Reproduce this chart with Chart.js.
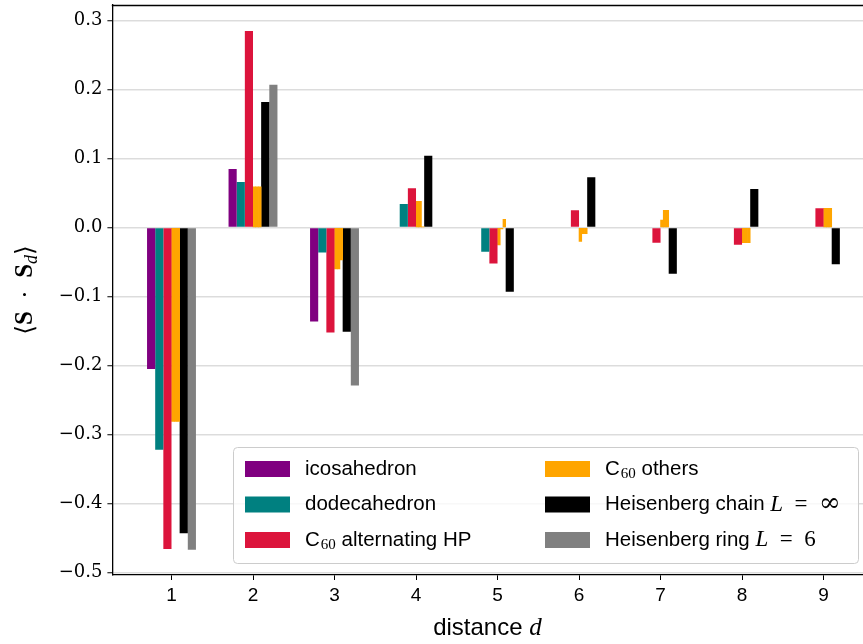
<!DOCTYPE html>
<html>
<head>
<meta charset="utf-8">
<script src="https://cdn.jsdelivr.net/npm/chart.js@4/dist/chart.umd.min.js"></script>
<style>
  html, body { margin: 0; padding: 0; overflow: hidden; background: #fff; }
  #wrap { position: absolute; left: 0; top: 0; width: 880px; height: 644px; }
</style>
</head>
<body>
<div id="wrap"><canvas id="chart"></canvas></div>
<script>
// spin-spin correlations <S . S_d> against graph distance d
const distances = [1, 2, 3, 4, 5, 6, 7, 8, 9];
const yTicks = [-0.5, -0.4, -0.3, -0.2, -0.1, 0.0, 0.1, 0.2, 0.3];

const icosahedron = [-0.205, 0.085, -0.136];
const dodecahedron = [-0.322, 0.066, -0.036, 0.034, -0.035];
const c60Alternating = [-0.466, 0.285, -0.152, 0.057, -0.052, 0.025, -0.022, -0.025, 0.028];
// "C60 others": three bond classes, drawn as thin sub-bars side by side
const c60OthersA = [-0.281, 0.059, -0.060, 0.038, -0.025, -0.020, 0.011, -0.022, 0.028];
const c60OthersB = [-0.281, 0.059, -0.060, 0.038, -0.002, -0.009, 0.025, -0.022, 0.028];
const c60OthersC = [-0.281, 0.059, -0.047, 0.001, 0.012, -0.009, 0.025, -0.022, 0.028];
const heisenbergChain = [-0.443, 0.182, -0.151, 0.104, -0.093, 0.073, -0.067, 0.056, -0.053];
const heisenbergRing = [-0.467, 0.207, -0.229];

const X_MIN = 0.275, X_MAX = 9.625;
const Y_MIN = -0.5036, Y_MAX = 0.3226;

const BAR_W = 0.1;
const SUB_W = BAR_W / 3;

const SERIF = "'DejaVu Serif', 'Liberation Serif', serif";
const MATH = "'Liberation Serif', 'DejaVu Serif', serif";
const SANS = "'Liberation Sans', 'DejaVu Sans', sans-serif";

const toPoints = (vals, offset) =>
    vals.map((v, i) => ({ x: distances[i] + offset, y: v }));

// bar widths are set relative to the narrowest spacing (the orange sub-bars)
const mainBar = (data, color, offset) => ({
    data: toPoints(data, offset), backgroundColor: color,
    barPercentage: BAR_W / SUB_W, categoryPercentage: 1, grouped: false, borderWidth: 0
});
const subBar = (data, color, offset) => ({
    data: toPoints(data, offset), backgroundColor: color,
    barPercentage: 1, categoryPercentage: 1, grouped: false, borderWidth: 0
});

const datasets = [
    mainBar(icosahedron, '#800080', -0.25),
    mainBar(dodecahedron, '#008080', -0.15),
    mainBar(c60Alternating, '#dc143c', -0.05),
    subBar(c60OthersA, '#ffa500', 0.05 - SUB_W),
    subBar(c60OthersB, '#ffa500', 0.05),
    subBar(c60OthersC, '#ffa500', 0.05 + SUB_W),
    mainBar(heisenbergChain, '#000000', 0.15),
    mainBar(heisenbergRing, '#808080', 0.25)
];

const FONTS = {
    sans: `20.5px ${SANS}`,
    sub: `15px ${MATH}`,
    ital: `italic 23px ${MATH}`,
    serif: `23px ${MATH}`,
    inf: `26px 'DejaVu Serif', serif`,
    gap: `23px ${MATH}`
};

// legend rows, column-major like a two-column matplotlib legend
const legendItems = [
    { color: '#800080', runs: [['icosahedron', 'sans']] },
    { color: '#008080', runs: [['dodecahedron', 'sans']] },
    { color: '#dc143c', runs: [['C', 'sans'], ['60', 'sub'], [' alternating HP', 'sans']] },
    { color: '#ffa500', runs: [['C', 'sans'], ['60', 'sub'], [' others', 'sans']] },
    { color: '#000000', runs: [['Heisenberg chain ', 'sans'], ['L', 'ital'], ['\u2002=\u2002', 'gap'], ['∞', 'inf']] },
    { color: '#808080', runs: [['Heisenberg ring ', 'sans'], ['L', 'ital'], ['\u2002=\u2002', 'gap'], ['6', 'serif']] }
];

const drawRuns = (ctx, runs, x, y) => {
    for (const [t, f] of runs) {
        ctx.font = FONTS[f];
        if (f === 'sub') x += 1;
        ctx.fillText(t, x, f === 'sub' ? y + 5 : y);
        x += ctx.measureText(t).width;
    }
};

const decorations = {
    id: 'decorations',
    afterDraw(chart) {
        const { ctx, chartArea: a } = chart;
        ctx.save();

        // top spine
        ctx.strokeStyle = '#000';
        ctx.lineWidth = 1.3;
        ctx.beginPath();
        ctx.moveTo(a.left - 0.6, Math.round(a.top) + 0.5);
        ctx.lineTo(a.right, Math.round(a.top) + 0.5);
        ctx.stroke();

        ctx.fillStyle = '#000';
        ctx.textBaseline = 'middle';

        // y axis title: <S . S_d>
        const yRuns = [
            ['⟨', `25px ${MATH}`], ['S', `bold 25px ${MATH}`], ['\u2002·\u2002', `25px ${MATH}`],
            ['S', `bold 25px ${MATH}`], ['d', `italic 18px ${MATH}`], ['⟩', `25px ${MATH}`]
        ];
        let w = 0;
        yRuns.forEach(([t, f]) => { ctx.font = f; w += ctx.measureText(t).width; });
        ctx.save();
        ctx.translate(26, (a.top + a.bottom) / 2);
        ctx.rotate(-Math.PI / 2);
        let x = -w / 2;
        yRuns.forEach(([t, f]) => {
            ctx.font = f;
            ctx.fillText(t, x, t === 'd' ? 6 : 0);
            x += ctx.measureText(t).width;
        });
        ctx.restore();

        // x axis title
        const xRuns = [['distance ', `24px ${SANS}`], ['d', `italic 25px ${MATH}`]];
        w = 0;
        xRuns.forEach(([t, f]) => { ctx.font = f; w += ctx.measureText(t).width; });
        x = (a.left + a.right) / 2 - w / 2 - 6;
        xRuns.forEach(([t, f]) => {
            ctx.font = f;
            ctx.fillText(t, x, 628);
            x += ctx.measureText(t).width;
        });

        // legend box
        const bx = 233, by = 447, bw = 625, bh = 116;
        ctx.beginPath();
        ctx.roundRect(bx + 0.5, by + 0.5, bw, bh, 4);
        ctx.fillStyle = 'rgba(255,255,255,0.8)';
        ctx.fill();
        ctx.strokeStyle = '#cccccc';
        ctx.lineWidth = 1;
        ctx.stroke();

        legendItems.forEach((item, i) => {
            const col = Math.floor(i / 3), row = i % 3;
            const hx = bx + 12 + col * 300, hy = by + 22 + row * 35.5;
            ctx.fillStyle = item.color;
            ctx.fillRect(hx, hy - 8, 45, 16);
            ctx.fillStyle = '#000';
            drawRuns(ctx, item.runs, hx + 60, hy);
        });

        ctx.restore();
    }
};

new Chart(document.getElementById('chart'), {
    type: 'bar',
    data: { datasets },
    options: {
        responsive: true, maintainAspectRatio: false, animation: false,
        layout: { padding: { top: 5, right: 5.5, left: 0, bottom: 0 } },
        plugins: { legend: { display: false }, tooltip: { enabled: false } },
        scales: {
            x: {
                type: 'linear', min: X_MIN, max: X_MAX, offset: false,
                afterBuildTicks: s => { s.ticks = distances.map(v => ({ value: v })); },
                afterFit: s => { s.height = 69; s.paddingLeft = 0; s.paddingRight = 0; },
                grid: { offset: false, drawOnChartArea: false, tickColor: '#000', tickLength: 5, tickWidth: 1 },
                border: { color: '#000', width: 1.3 },
                ticks: {
                    autoSkip: false, maxRotation: 0, color: '#000', padding: 4,
                    font: { family: SANS, size: 19 },
                    callback: v => String(v)
                }
            },
            y: {
                min: Y_MIN, max: Y_MAX, z: 1,
                afterBuildTicks: s => { s.ticks = yTicks.map(v => ({ value: v })); },
                afterFit: s => { s.width = 112.4; s.paddingTop = 0; s.paddingBottom = 0; },
                grid: { color: 'rgba(128,128,128,0.28)', lineWidth: 1.5, tickColor: '#000', tickLength: 5, tickWidth: 1 },
                border: { color: '#000', width: 1.3 },
                ticks: {
                    color: '#000', padding: 5,
                    font: { family: SERIF, size: 18 },
                    callback: v => (v < -1e-9 ? '−' : '') + Math.abs(v).toFixed(1)
                }
            }
        }
    },
    plugins: [decorations]
});
</script>
</body>
</html>
